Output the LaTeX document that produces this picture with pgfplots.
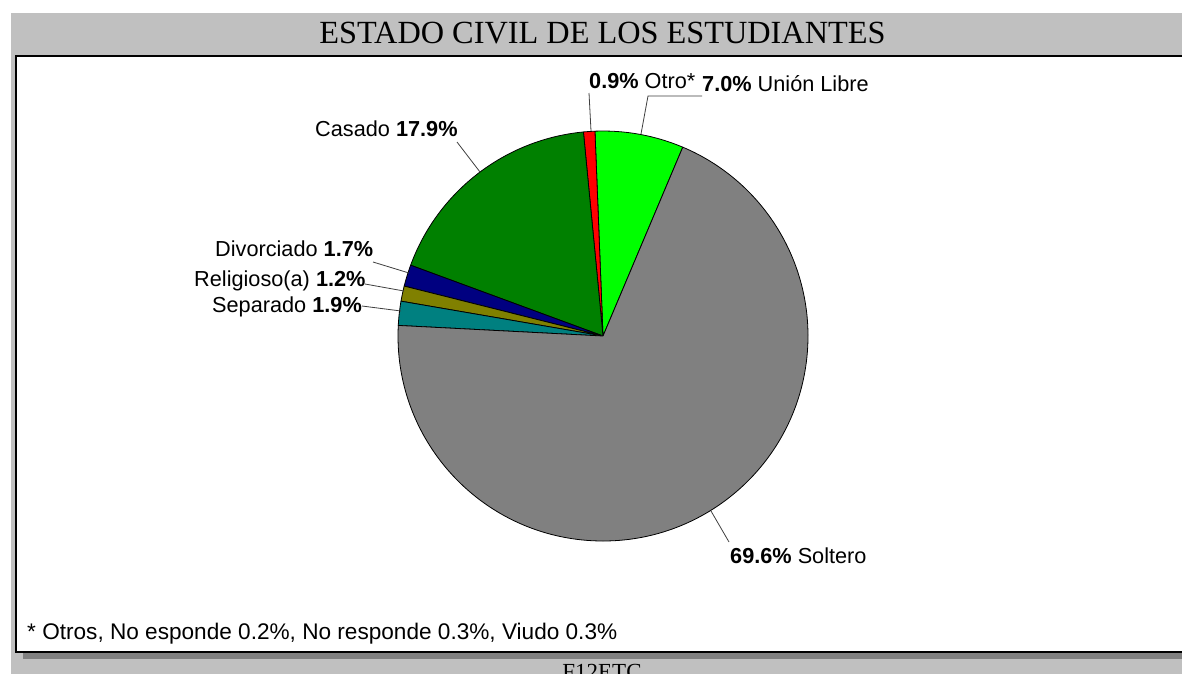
\documentclass[border=0pt]{standalone}
\usepackage{pgfplots}
\pgfplotsset{compat=1.18}
\usepackage{pgfplotstable}
\usepackage{fontspec}
\setmainfont{Liberation Sans}
\newfontfamily\seriffont{Liberation Serif}
\definecolor{bgGray}{HTML}{C0C0C0}
\definecolor{shGray}{HTML}{808080}
\definecolor{cUnion}{HTML}{00FF00}
\definecolor{cOtro}{HTML}{FF0000}
\definecolor{cCasado}{HTML}{008000}
\definecolor{cDivor}{HTML}{000080}
\definecolor{cRelig}{HTML}{808000}
\definecolor{cSepar}{HTML}{008080}
\definecolor{cSolt}{HTML}{808080}
\newcommand\lbl{\fontsize{21.7}{25}\selectfont}

\pgfplotstableread[col sep=comma]{
name,value,color
Union Libre,7.0,cUnion
Otro,0.9,cOtro
Casado,17.9,cCasado
Divorciado,1.7,cDivor
Religioso,1.2,cRelig
Separado,1.9,cSepar
Soltero,69.6,cSolt
}\piedata

\begin{document}
\begin{tikzpicture}
\def\piestart{67.1}
\def\pietotal{100.2}
\pgfplotstablegetrowsof{\piedata}
\pgfmathtruncatemacro\pielast{\pgfplotsretval-1}
\xdef\cumangle{\piestart}
\pgfplotsforeachungrouped \i in {0,...,\pielast}{%
  \pgfplotstablegetelem{\i}{value}\of\piedata \let\pv\pgfplotsretval
  \pgfplotstablegetelem{\i}{color}\of\piedata \let\pc\pgfplotsretval
  \pgfmathsetmacro\endangle{\cumangle+\pv/\pietotal*360}%
  \expandafter\xdef\csname pieA\i\endcsname{\cumangle}%
  \expandafter\xdef\csname pieB\i\endcsname{\endangle}%
  \expandafter\xdef\csname pieC\i\endcsname{\pc}%
  \xdef\cumangle{\endangle}%
}
\useasboundingbox (0,0) rectangle (1182pt,673pt);
\begin{axis}[
  at={(0,0)}, anchor=south west,
  width=1182pt, height=673pt, scale only axis,
  xmin=0, xmax=1182, ymin=0, ymax=673, y dir=reverse,
  hide axis, clip=false,
]
% background frame
\fill[bgGray] (axis cs:11,13) rectangle (axis cs:1190,680);
\fill[shGray] (axis cs:23,652) rectangle (axis cs:1190,659);
\filldraw[fill=white, draw=black, line width=1.2pt] (axis cs:16,56) rectangle (axis cs:1190,652);
\node[anchor=base, inner sep=0, font=\seriffont\fontsize{32.3}{36}\selectfont] at (axis cs:602.5,43) {ESTADO CIVIL DE LOS ESTUDIANTES};
\node[anchor=base, inner sep=0, font=\seriffont\fontsize{23}{26}\selectfont] at (axis cs:602,679) {F12ETC};
% pie
\pgfplotsinvokeforeach{0,...,6}{%
  \edef\temp{\noexpand\filldraw[fill=\csname pieC#1\endcsname, draw=black, line width=0.8pt, line join=round] (axis cs:603,336) -- ++(\csname pieA#1\endcsname:205pt) arc[start angle=\csname pieA#1\endcsname, end angle=\csname pieB#1\endcsname, radius=205pt] -- cycle;}%
  \temp
}
% leader lines
\draw[black!75, line width=0.8pt] (axis cs:589,93) -- (axis cs:591,131);
\draw[black!75, line width=0.8pt] (axis cs:702,96) -- (axis cs:648,96) -- (axis cs:641,134);
\draw[black!75, line width=0.8pt] (axis cs:457,142) -- (axis cs:480,172);
\draw[black!75, line width=0.8pt] (axis cs:373,262) -- (axis cs:409,273);
\draw[black!75, line width=0.8pt] (axis cs:365,284) -- (axis cs:404,291);
\draw[black!75, line width=0.8pt] (axis cs:362,306) -- (axis cs:401,311);
\draw[black!75, line width=0.8pt] (axis cs:729,542) -- (axis cs:711,511);
% labels
\node[anchor=base west, inner sep=0, font=\lbl] at (axis cs:589,88) {\textbf{0.9\%} Otro*};
\node[anchor=base west, inner sep=0, font=\lbl] at (axis cs:702,91) {\textbf{7.0\%} Unión Libre};
\node[anchor=base west, inner sep=0, font=\lbl] at (axis cs:315,136) {Casado \textbf{17.9\%}};
\node[anchor=base west, inner sep=0, font=\lbl] at (axis cs:215,256) {Divorciado \textbf{1.7\%}};
\node[anchor=base west, inner sep=0, font=\lbl] at (axis cs:194,286) {Religioso(a) \textbf{1.2\%}};
\node[anchor=base west, inner sep=0, font=\lbl] at (axis cs:212,312) {Separado \textbf{1.9\%}};
\node[anchor=base west, inner sep=0, font=\lbl] at (axis cs:730,563) {\textbf{69.6\%} Soltero};
\node[anchor=base west, inner sep=0, font=\fontsize{22.6}{26}\selectfont] at (axis cs:27,639) {* Otros, No esponde 0.2\%, No responde 0.3\%, Viudo 0.3\%};
\end{axis}
\end{tikzpicture}
\end{document}
